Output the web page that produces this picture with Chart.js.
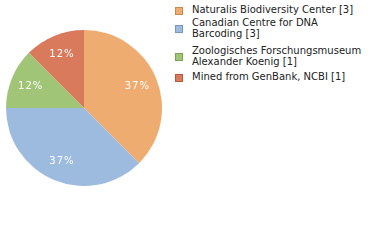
<!DOCTYPE html>
<html><head><meta charset="utf-8">
<script src="https://cdn.jsdelivr.net/npm/chart.js@4/dist/chart.umd.min.js"></script>
<style>
html,body{margin:0;padding:0;background:#fff;width:380px;height:240px;overflow:hidden;}
#wrap{position:absolute;left:6px;top:30px;width:156px;height:156px;}
.lg{position:absolute;font-family:"DejaVu Sans",sans-serif;font-size:10px;color:#222;line-height:11px;white-space:nowrap;}
.sq{position:absolute;width:6px;height:6px;border:1px solid;}
</style></head><body>
<div id="wrap"><canvas id="c"></canvas></div>
<div id="legend"></div>
<script>
const categories = [
  ["Naturalis Biodiversity Center [3]"],
  ["Canadian Centre for DNA", "Barcoding [3]"],
  ["Zoologisches Forschungsmuseum", "Alexander Koenig [1]"],
  ["Mined from GenBank, NCBI [1]"]
];
const values = [3, 3, 1, 1];
const colors = ["#EFAC70", "#9DBADF", "#A0C577", "#DA7A5D"];
const borderColors = ["#C98A50", "#7A97BD", "#7EA255", "#B85A3E"];

// legend (HTML, built from arrays)
const legendTops = [4, 17, 45, 71];
const lg = document.getElementById('legend');
categories.forEach((lines, i) => {
  const t = legendTops[i];
  const sq = document.createElement('div');
  sq.className = 'sq';
  sq.style.left = '175px';
  sq.style.top = (t + (lines.length * 11) / 2 - 3) + 'px';
  sq.style.background = colors[i];
  sq.style.borderColor = borderColors[i];
  lg.appendChild(sq);
  const tx = document.createElement('div');
  tx.className = 'lg';
  tx.style.left = '192px';
  tx.style.top = t + 'px';
  tx.innerHTML = lines.join('<br>');
  lg.appendChild(tx);
});

const pctPlugin = {
  id: 'pct',
  afterDatasetsDraw(chart) {
    const ctx = chart.ctx;
    const total = values.reduce((a, b) => a + b, 0);
    const meta = chart.getDatasetMeta(0);
    ctx.save();
    ctx.fillStyle = '#fff';
    ctx.font = '10px "DejaVu Sans", sans-serif';
    ctx.textAlign = 'center';
    ctx.textBaseline = 'middle';
    if ('letterSpacing' in ctx) ctx.letterSpacing = '1px';
    meta.data.forEach((arc, i) => {
      const p = arc.getProps(['x', 'y', 'startAngle', 'endAngle', 'outerRadius'], true);
      const mid = (p.startAngle + p.endAngle) / 2;
      const r = p.outerRadius * 0.74;
      const pct = Math.floor(values[i] / total * 100);
      ctx.fillText(pct + '%', p.x + Math.cos(mid) * r, p.y + Math.sin(mid) * r);
    });
    ctx.restore();
  }
};

new Chart(document.getElementById('c'), {
  type: 'pie',
  data: {
    labels: categories.map(l => l.join(' ')),
    datasets: [{ data: values, backgroundColor: colors, borderWidth: 0 }]
  },
  options: {
    responsive: true,
    maintainAspectRatio: false,
    animation: false,
    layout: { padding: 0 },
    plugins: { legend: { display: false }, tooltip: { enabled: false } }
  },
  plugins: [pctPlugin]
});
</script>
</body></html>
